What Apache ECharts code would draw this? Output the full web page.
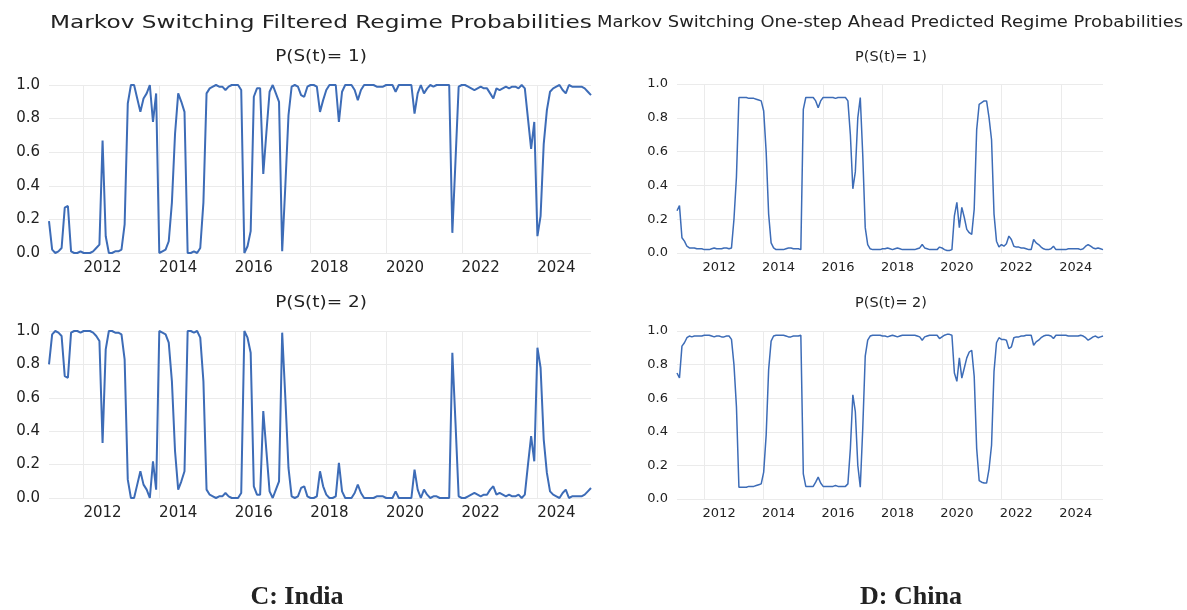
<!DOCTYPE html>
<html>
<head>
<meta charset="utf-8">
<title>Markov Switching Regime Probabilities</title>
<script src="https://cdn.jsdelivr.net/npm/echarts@6.0.0/dist/echarts.min.js"></script>
<style>
    html, body { margin: 0; padding: 0; background: #fff; }
    #chart { width: 1187px; height: 610px; }
</style>
</head>
<body>
<div id="chart"></div>
<script>
// monthly regime probabilities, Feb 2011 .. Jun 2025
const indiaP1 = [
    0.19,0.02,0.00,0.01,0.03,0.27,0.28,0.01,0.00,0.00,0.01,0.00,0.00,0.00,0.01,0.03,0.05,0.67,0.10,0.00,
    0.00,0.01,0.01,0.02,0.17,0.89,1.00,1.00,0.92,0.84,0.92,0.95,1.00,0.78,0.95,0.00,0.01,0.02,0.07,0.30,
    0.71,0.95,0.90,0.84,0.00,0.00,0.01,0.00,0.03,0.30,0.95,0.98,0.99,1.00,0.99,0.99,0.97,0.99,1.00,1.00,
    1.00,0.97,0.00,0.04,0.13,0.93,0.98,0.98,0.47,0.72,0.96,1.00,0.95,0.90,0.01,0.40,0.82,0.99,1.00,0.99,
    0.94,0.93,0.99,1.00,1.00,0.99,0.84,0.91,0.97,1.00,1.00,1.00,0.78,0.96,1.00,1.00,1.00,0.97,0.91,0.97,
    1.00,1.00,1.00,1.00,0.99,0.99,0.99,1.00,1.00,1.00,0.96,1.00,1.00,1.00,1.00,1.00,0.83,0.95,1.00,0.95,
    0.98,1.00,0.99,1.00,1.00,1.00,1.00,1.00,0.12,0.55,0.99,1.00,1.00,0.99,0.98,0.97,0.98,0.99,0.98,0.98,
    0.95,0.92,0.98,0.97,0.98,0.99,0.98,0.99,0.99,0.98,1.00,0.98,0.80,0.62,0.78,0.10,0.22,0.65,0.85,0.96,
    0.98,0.99,1.00,0.97,0.95,1.00,0.99,0.99,0.99,0.99,0.98,0.96,0.94
];
const indiaP2 = [
    0.80,0.98,1.00,0.99,0.97,0.73,0.72,0.99,1.00,1.00,0.99,1.00,1.00,1.00,0.99,0.97,0.94,0.33,0.89,1.00,
    1.00,0.99,0.99,0.98,0.83,0.11,0.00,0.00,0.08,0.16,0.08,0.05,0.00,0.22,0.05,1.00,0.99,0.98,0.93,0.70,
    0.28,0.05,0.10,0.16,1.00,1.00,0.99,1.00,0.96,0.70,0.05,0.02,0.01,0.00,0.01,0.01,0.03,0.01,0.00,0.00,
    0.00,0.03,1.00,0.96,0.87,0.07,0.02,0.02,0.52,0.28,0.04,0.00,0.05,0.10,0.99,0.60,0.18,0.01,0.00,0.01,
    0.06,0.07,0.01,0.00,0.00,0.01,0.16,0.07,0.02,0.00,0.00,0.01,0.21,0.04,0.00,0.00,0.00,0.03,0.08,0.03,
    0.00,0.00,0.00,0.00,0.01,0.01,0.01,0.00,0.00,0.00,0.04,0.00,0.00,0.00,0.00,0.00,0.17,0.05,0.00,0.05,
    0.02,0.00,0.01,0.01,0.00,0.00,0.00,0.00,0.87,0.45,0.01,0.00,0.00,0.01,0.02,0.03,0.02,0.01,0.02,0.02,
    0.05,0.07,0.02,0.03,0.02,0.01,0.02,0.01,0.01,0.02,0.00,0.02,0.20,0.37,0.22,0.90,0.78,0.35,0.15,0.04,
    0.02,0.01,0.00,0.03,0.05,0.00,0.01,0.01,0.01,0.01,0.02,0.04,0.06
];
const chinaP1 = [
    0.25,0.28,0.09,0.07,0.04,0.03,0.03,0.03,0.025,0.025,0.025,0.02,0.02,0.02,0.025,0.03,0.025,0.025,0.025,0.03,
    0.03,0.025,0.03,0.20,0.45,0.92,0.92,0.92,0.92,0.915,0.915,0.915,0.91,0.905,0.90,0.84,0.60,0.23,0.06,0.03,
    0.02,0.02,0.02,0.02,0.025,0.03,0.03,0.025,0.025,0.025,0.02,0.85,0.92,0.92,0.92,0.92,0.90,0.86,0.90,0.92,
    0.92,0.92,0.92,0.92,0.915,0.92,0.92,0.92,0.92,0.90,0.70,0.38,0.48,0.80,0.92,0.58,0.15,0.05,0.025,0.02,
    0.02,0.02,0.02,0.025,0.025,0.03,0.025,0.02,0.025,0.03,0.025,0.02,0.02,0.02,0.02,0.02,0.02,0.025,0.03,0.05,
    0.03,0.025,0.02,0.02,0.02,0.02,0.035,0.03,0.02,0.015,0.015,0.02,0.22,0.30,0.15,0.27,0.21,0.14,0.12,0.11,
    0.26,0.73,0.88,0.89,0.90,0.90,0.80,0.67,0.23,0.07,0.035,0.05,0.04,0.055,0.10,0.08,0.04,0.035,0.035,0.03,
    0.03,0.025,0.02,0.02,0.08,0.06,0.05,0.035,0.025,0.02,0.02,0.025,0.04,0.02,0.02,0.02,0.02,0.02,0.025,0.025,
    0.025,0.025,0.025,0.02,0.025,0.04,0.05,0.04,0.03,0.025,0.03,0.025,0.02
];
const chinaP2 = [
    0.75,0.72,0.91,0.93,0.96,0.97,0.965,0.97,0.97,0.97,0.97,0.975,0.975,0.975,0.97,0.965,0.97,0.97,0.965,0.965,
    0.97,0.97,0.95,0.80,0.55,0.07,0.07,0.07,0.07,0.075,0.075,0.075,0.08,0.085,0.09,0.16,0.38,0.77,0.94,0.97,
    0.975,0.975,0.975,0.975,0.97,0.965,0.965,0.97,0.97,0.97,0.975,0.15,0.075,0.075,0.075,0.075,0.10,0.13,0.095,0.075,
    0.075,0.075,0.075,0.075,0.08,0.075,0.075,0.075,0.075,0.09,0.30,0.62,0.52,0.20,0.07,0.42,0.85,0.945,0.97,0.975,
    0.975,0.975,0.975,0.97,0.97,0.965,0.97,0.975,0.97,0.965,0.97,0.975,0.975,0.975,0.975,0.975,0.975,0.97,0.965,0.945,
    0.965,0.97,0.975,0.975,0.975,0.975,0.955,0.965,0.975,0.98,0.98,0.975,0.75,0.70,0.84,0.72,0.78,0.84,0.875,0.885,
    0.73,0.30,0.11,0.10,0.095,0.095,0.18,0.32,0.76,0.93,0.96,0.95,0.95,0.945,0.895,0.905,0.96,0.965,0.965,0.97,
    0.97,0.975,0.975,0.975,0.915,0.935,0.945,0.96,0.97,0.975,0.975,0.97,0.955,0.975,0.975,0.975,0.975,0.975,0.97,0.97,
    0.97,0.97,0.97,0.975,0.97,0.96,0.945,0.955,0.965,0.97,0.96,0.965,0.97
];

const tickYears = ['2012', '2014', '2016', '2018', '2020', '2022', '2024'];

// month categories
const months = [];
for (let k = 0; k < indiaP1.length; k++) {
    const d = new Date(2011, 1 + k, 1);
    months.push(d.getFullYear() + '-' + String(d.getMonth() + 1).padStart(2, '0'));
}

const LINE_COLOR = '#3d6cb7';
const GRID_COLOR = '#ebebeb';
const TEXT_COLOR = '#222';

// gridline on january, year label centred on july
const isYearStart = (idx, val) => val.slice(5) === '01' && tickYears.indexOf(val.slice(0, 4)) >= 0;
const isMidYear = (idx, val) => val.slice(5) === '07' && tickYears.indexOf(val.slice(0, 4)) >= 0;

const panels = [
    { left: 49, width: 542, top: 85, height: 168, data: indiaP1, font: 15, lineWidth: 2 },
    { left: 49, width: 542, top: 331, height: 167, data: indiaP2, font: 15, lineWidth: 2 },
    { left: 677, width: 426, top: 84, height: 169, data: chinaP1, font: 13, lineWidth: 1.5 },
    { left: 677, width: 426, top: 331, height: 168, data: chinaP2, font: 13, lineWidth: 1.5 },
];

// the source image is stretched sideways, so the headings get a scaleX
function label(text, x, y, size, stretch, family, weight) {
    return {
        type: 'text',
        x: x,
        y: y,
        scaleX: stretch || 1,
        silent: true,
        style: {
            text: text,
            fontFamily: family || 'DejaVu Sans',
            fontSize: size,
            fontWeight: weight || 'normal',
            fill: TEXT_COLOR,
            align: 'center',
            verticalAlign: 'middle',
            textAlign: 'center',
            textVerticalAlign: 'middle',
        },
    };
}

function getOption() {
    const grid = [], xAxis = [], yAxis = [], series = [];
    panels.forEach((p, i) => {
        grid.push({ left: p.left, top: p.top, width: p.width, height: p.height, outerBoundsMode: 'none' });
        xAxis.push({
            type: 'category',
            gridIndex: i,
            data: months,
            boundaryGap: false,
            axisLine: { show: false },
            axisTick: { show: false },
            axisLabel: {
                interval: isMidYear,
                formatter: (v) => v.slice(0, 4),
                fontFamily: 'DejaVu Sans',
                fontSize: p.font,
                color: TEXT_COLOR,
                margin: 8,
            },
            splitLine: { show: true, interval: isYearStart, lineStyle: { color: GRID_COLOR, width: 1 } },
        });
        yAxis.push({
            type: 'value',
            gridIndex: i,
            min: 0,
            max: 1,
            interval: 0.2,
            axisLine: { show: false },
            axisTick: { show: false },
            axisLabel: {
                formatter: (v) => v.toFixed(1),
                fontFamily: 'DejaVu Sans',
                fontSize: p.font,
                color: TEXT_COLOR,
                margin: 9,
            },
            splitLine: { show: true, lineStyle: { color: GRID_COLOR, width: 1 } },
        });
        series.push({
            type: 'line',
            xAxisIndex: i,
            yAxisIndex: i,
            data: p.data,
            showSymbol: false,
            symbol: 'none',
            lineStyle: { color: LINE_COLOR, width: p.lineWidth },
        });
    });

    return {
        backgroundColor: '#fff',
        animation: false,
        graphic: [
            label('Markov Switching Filtered Regime Probabilities', 321, 23, 18, 1.29),
            label('Markov Switching One-step Ahead Predicted Regime Probabilities', 890, 23, 16, 1.12),
            label('P(S(t)= 1)', 321, 57, 16, 1.15),
            label('P(S(t)= 2)', 321, 303, 16, 1.15),
            label('P(S(t)= 1)', 891, 57, 14, 1.03),
            label('P(S(t)= 2)', 891, 303, 14, 1.03),
            label('C: India', 297, 597, 26, 1, 'Liberation Serif', 'bold'),
            label('D: China', 911, 597, 26, 1, 'Liberation Serif', 'bold'),
        ],
        grid,
        xAxis,
        yAxis,
        series,
    };
}

const chart = echarts.init(document.getElementById('chart'), null, { renderer: 'canvas' });
chart.setOption(getOption());
</script>
</body>
</html>
